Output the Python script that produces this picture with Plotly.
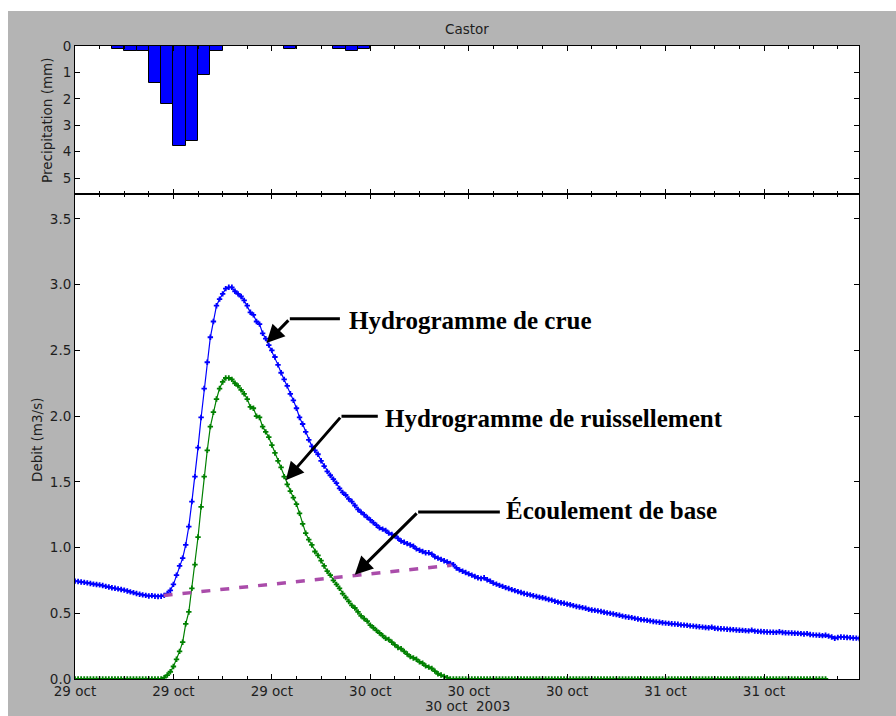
import pandas as pd
import plotly.graph_objects as go

# ---------------- data ----------------
START = pd.Timestamp("2003-10-29 00:00")
STEP_MIN = 15  # sampling step of the discharge series (minutes)

# hourly precipitation (hour offset from 29 oct 00:00, mm)
RAIN_HOURS = [3, 4, 5, 6, 7, 8, 9, 10, 11, 17, 21, 22, 23]
RAIN_MM = [0.1, 0.2, 0.2, 1.4, 2.2, 3.8, 3.6, 1.1, 0.2, 0.1, 0.1, 0.2, 0.1]

# total flow (Hydrogramme de crue), 15-min values from 29 oct 00:00
FLOW_TOTAL = [
    0.745, 0.742, 0.738, 0.735, 0.731, 0.727, 0.722, 0.719,
    0.716, 0.711, 0.705, 0.700, 0.694, 0.690, 0.686, 0.681,
    0.676, 0.670, 0.663, 0.657, 0.650, 0.645, 0.640, 0.636,
    0.632, 0.634, 0.630, 0.628, 0.630, 0.636, 0.650, 0.675,
    0.720, 0.790, 0.860, 0.920, 1.020, 1.160, 1.350, 1.540,
    1.760, 1.990, 2.210, 2.410, 2.600, 2.720, 2.840, 2.890,
    2.930, 2.970, 2.980, 2.980, 2.950, 2.930, 2.910, 2.880,
    2.840, 2.790, 2.770, 2.720, 2.700, 2.630, 2.590, 2.540,
    2.500, 2.450, 2.390, 2.330, 2.280, 2.230, 2.170, 2.120,
    2.060, 1.990, 1.940, 1.880, 1.820, 1.770, 1.740, 1.710,
    1.660, 1.620, 1.580, 1.550, 1.520, 1.490, 1.450, 1.420,
    1.400, 1.370, 1.350, 1.320, 1.290, 1.270, 1.250, 1.230,
    1.210, 1.190, 1.170, 1.150, 1.140, 1.130, 1.110, 1.100,
    1.090, 1.070, 1.050, 1.040, 1.030, 1.020, 1.010, 0.990,
    0.980, 0.970, 0.960, 0.960, 0.950, 0.930, 0.920, 0.910,
    0.900, 0.890, 0.880, 0.870, 0.845, 0.830, 0.820, 0.810,
    0.800, 0.790, 0.780, 0.770, 0.765, 0.770, 0.755, 0.745,
    0.730, 0.722, 0.712, 0.705, 0.695, 0.688, 0.680, 0.672,
    0.665, 0.658, 0.650, 0.645, 0.640, 0.633, 0.628, 0.622,
    0.618, 0.612, 0.605, 0.600, 0.592, 0.585, 0.580, 0.576,
    0.570, 0.565, 0.558, 0.552, 0.548, 0.543, 0.538, 0.530,
    0.525, 0.522, 0.518, 0.514, 0.508, 0.503, 0.499, 0.495,
    0.490, 0.485, 0.478, 0.474, 0.470, 0.467, 0.461, 0.457,
    0.452, 0.450, 0.446, 0.442, 0.438, 0.435, 0.432, 0.428,
    0.425, 0.423, 0.420, 0.418, 0.416, 0.412, 0.410, 0.408,
    0.404, 0.402, 0.400, 0.397, 0.395, 0.392, 0.390, 0.394,
    0.386, 0.384, 0.382, 0.381, 0.379, 0.377, 0.376, 0.373,
    0.371, 0.370, 0.368, 0.366, 0.372, 0.364, 0.362, 0.361,
    0.360, 0.358, 0.357, 0.356, 0.355, 0.360, 0.354, 0.352,
    0.351, 0.350, 0.348, 0.347, 0.345, 0.342, 0.345, 0.338,
    0.336, 0.334, 0.333, 0.330, 0.333, 0.326, 0.320, 0.310,
    0.316, 0.320, 0.318, 0.316, 0.315, 0.312, 0.311, 0.308,
]

# runoff (Hydrogramme de ruissellement), 15-min values from 29 oct 00:00
FLOW_RUNOFF = [
    0.0, 0.0, 0.0, 0.0, 0.0, 0.0, 0.0, 0.0,
    0.0, 0.0, 0.0, 0.0, 0.0, 0.0, 0.0, 0.0,
    0.0, 0.0, 0.0, 0.0, 0.0, 0.0, 0.0, 0.0,
    0.0, 0.0, 0.0, 0.0, 0.000, 0.010, 0.030, 0.055,
    0.095, 0.150, 0.210, 0.280, 0.420, 0.510, 0.690, 0.870,
    1.080, 1.310, 1.540, 1.740, 1.920, 2.030, 2.130, 2.210,
    2.260, 2.290, 2.290, 2.280, 2.250, 2.230, 2.200, 2.170,
    2.130, 2.070, 2.060, 2.000, 1.990, 1.920, 1.880, 1.840,
    1.780, 1.720, 1.660, 1.610, 1.540, 1.480, 1.430, 1.380,
    1.330, 1.260, 1.180, 1.110, 1.060, 1.020, 0.970, 0.940,
    0.900, 0.860, 0.820, 0.790, 0.750, 0.720, 0.690, 0.650,
    0.620, 0.590, 0.560, 0.540, 0.510, 0.480, 0.460, 0.440,
    0.410, 0.390, 0.370, 0.350, 0.330, 0.310, 0.300, 0.280,
    0.260, 0.240, 0.230, 0.210, 0.190, 0.170, 0.160, 0.150,
    0.130, 0.120, 0.100, 0.090, 0.080, 0.060, 0.040, 0.030,
    0.020, 0.010, 0.000, 0.000,
    0.0, 0.0, 0.0, 0.0, 0.0, 0.0, 0.0, 0.0, 0.0, 0.0,
    0.0, 0.0, 0.0, 0.0, 0.0, 0.0, 0.0, 0.0, 0.0, 0.0,
    0.0, 0.0, 0.0, 0.0, 0.0, 0.0, 0.0, 0.0, 0.0, 0.0,
    0.0, 0.0, 0.0, 0.0, 0.0, 0.0, 0.0, 0.0, 0.0, 0.0,
    0.0, 0.0, 0.0, 0.0, 0.0, 0.0, 0.0, 0.0, 0.0, 0.0,
    0.0, 0.0, 0.0, 0.0, 0.0, 0.0, 0.0, 0.0, 0.0, 0.0,
    0.0, 0.0, 0.0, 0.0, 0.0, 0.0, 0.0, 0.0, 0.0, 0.0,
    0.0, 0.0, 0.0, 0.0, 0.0, 0.0, 0.0, 0.0, 0.0, 0.0,
    0.0, 0.0, 0.0, 0.0, 0.0, 0.0, 0.0, 0.0, 0.0, 0.0,
    0.0, 0.0, 0.0, 0.0, 0.0, 0.0, 0.0, 0.0, 0.0, 0.0,
    0.0, 0.0, 0.0, 0.0, 0.0, 0.0, 0.0, 0.0, 0.0, 0.0,
    0.0, 0.0, 0.0, 0.0, 0.0, 0.0, 0.0, 0.0, 0.0, 0.0,
    0.0,
]

# base flow separation line (Écoulement de base)
BASEFLOW_HOURS = [7.2, 30.6]
BASEFLOW = [0.635, 0.865]

XTICK_HOURS = [0, 8, 16, 24, 32, 40, 48, 56]
XTICK_LABELS = ["29 oct", "29 oct", "29 oct", "30 oct", "30 oct", "30 oct", "31 oct", "31 oct"]
X_END_HOURS = 63.72
PRECIP_TICKS = [0, 1, 2, 3, 4, 5]
FLOW_TICKS = [0.0, 0.5, 1.0, 1.5, 2.0, 2.5, 3.0, 3.5]

TITLE = "Castor"
X_TITLE = "30 oct \u00a02003"

# annotation: text, text (hour, value), line end hour, elbow (hour, value), tip (hour, value)
LABELS = [
    ("Hydrogramme de crue", 22.09, 2.73, 21.53, 17.46, 2.74, 15.56, 2.557),
    ("Hydrogramme de ruissellement", 25.02, 1.98, 24.61, 21.66, 2.0, 17.13, 1.513),
    ("Écoulement de base", 34.85, 1.285, 34.53, 27.89, 1.271, 22.74, 0.794),
]


def at(h):
    return START + pd.Timedelta(hours=h)


t_total = [START + pd.Timedelta(minutes=STEP_MIN * i) for i in range(len(FLOW_TOTAL))]
t_runoff = [START + pd.Timedelta(minutes=STEP_MIN * i) for i in range(len(FLOW_RUNOFF))]
t_rain = [at(h) for h in RAIN_HOURS]
t_base = [at(h) for h in BASEFLOW_HOURS]
xtickvals = [at(h) for h in XTICK_HOURS]

GRAY = "#b4b4b4"
TXT = "#1e1e1e"
FONT = "DejaVu Sans"
FS = 13.5

fig = go.Figure()

fig.add_trace(go.Bar(
    x=t_rain, y=RAIN_MM, xaxis="x2", yaxis="y2",
    width=3600 * 1000, offset=0,
    marker=dict(color="#0000ff", line=dict(color="black", width=1)),
    showlegend=False,
))

fig.add_trace(go.Scatter(
    x=t_total, y=FLOW_TOTAL, mode="lines+markers",
    line=dict(color="#0000ff", width=1.2),
    marker=dict(symbol="cross", size=4.5, color="#0000ff"),
    showlegend=False,
))
fig.add_trace(go.Scatter(
    x=t_runoff, y=FLOW_RUNOFF, mode="lines+markers",
    line=dict(color="#008000", width=1.2),
    marker=dict(symbol="cross", size=4.5, color="#008000"),
    showlegend=False,
))
fig.add_trace(go.Scatter(
    x=t_base, y=BASEFLOW, mode="lines",
    line=dict(color="#aa4caa", width=3.5, dash="9px,10px"),
    showlegend=False,
))

axis_common = dict(
    showline=True, linecolor="black", linewidth=1, mirror="allticks",
    ticks="inside", ticklen=5, tickwidth=1, tickcolor="black",
    showgrid=False, zeroline=False,
    tickfont=dict(family=FONT, size=FS, color=TXT),
)

SPLIT = 1 - 148 / 633

fig.update_layout(
    width=896, height=716,
    margin=dict(l=75, r=37, t=46, b=37),
    paper_bgcolor=GRAY, plot_bgcolor="white",
    bargap=0,
    xaxis=dict(
        domain=[0, 1], anchor="y", type="date",
        range=[START, at(X_END_HOURS)],
        tickvals=xtickvals, ticktext=XTICK_LABELS,
        minor=dict(dtick=2 * 3600 * 1000, ticks="inside", ticklen=3, tickcolor="black", showgrid=False),
        **axis_common,
    ),
    yaxis=dict(
        domain=[0, SPLIT], anchor="x",
        range=[0, 3.69],
        tickvals=FLOW_TICKS, ticktext=[f"{v:.1f}" for v in FLOW_TICKS],
        **axis_common,
    ),
    xaxis2=dict(
        domain=[0, 1], anchor="y2", type="date", matches="x",
        range=[START, at(X_END_HOURS)],
        tickvals=xtickvals, showticklabels=False,
        minor=dict(dtick=2 * 3600 * 1000, ticks="inside", ticklen=3, tickcolor="black", showgrid=False),
        **axis_common,
    ),
    yaxis2=dict(
        domain=[SPLIT, 1], anchor="x2",
        range=[5.6, 0],
        tickvals=PRECIP_TICKS, ticktext=[str(v) for v in PRECIP_TICKS],
        **axis_common,
    ),
)

PW, PH = 784, 633


def px_x(px):
    return (px - 75) / PW


def px_y(py):
    return (679 - py) / PH


shapes = [
    # white margins of the original image
    dict(type="rect", xref="paper", yref="paper", x0=px_x(0), x1=px_x(896), y0=px_y(11), y1=px_y(0),
         fillcolor="white", line=dict(width=0), layer="above"),
    dict(type="rect", xref="paper", yref="paper", x0=px_x(0), x1=px_x(8), y0=px_y(716), y1=px_y(0),
         fillcolor="white", line=dict(width=0), layer="above"),
]

annotations = [
    dict(text=TITLE, xref="paper", yref="paper", x=0.5, y=px_y(29), showarrow=False,
         font=dict(family=FONT, size=FS, color=TXT), xanchor="center", yanchor="middle"),
    dict(text="Precipitation (mm)", xref="paper", yref="paper", x=px_x(47), y=px_y(120),
         textangle=-90, showarrow=False, font=dict(family=FONT, size=FS, color=TXT),
         xanchor="center", yanchor="middle"),
    dict(text="Debit (m3/s)", xref="paper", yref="paper", x=px_x(37), y=px_y(440),
         textangle=-90, showarrow=False, font=dict(family=FONT, size=FS, color=TXT),
         xanchor="center", yanchor="middle"),
    dict(text=X_TITLE, xref="paper", yref="paper", x=0.5, y=px_y(706), showarrow=False,
         font=dict(family=FONT, size=FS, color=TXT), xanchor="center", yanchor="middle"),
]

for text, th, tv, lend, eh, ev, tiph, tipv in LABELS:
    annotations.append(dict(
        text="<b>" + text + "</b>", x=at(th), y=tv, xref="x", yref="y",
        showarrow=False, xanchor="left", yanchor="middle",
        font=dict(family="Liberation Serif", size=25, color="black"),
    ))
    shapes.append(dict(type="line", xref="x", yref="y", x0=at(eh), y0=ev, x1=at(lend), y1=ev,
                       line=dict(color="black", width=3)))
    annotations.append(dict(
        text="", x=at(tiph), y=tipv, xref="x", yref="y",
        ax=at(eh), ay=ev, axref="x", ayref="y",
        showarrow=True, arrowhead=2, arrowsize=1.2, arrowwidth=3, arrowcolor="black",
        standoff=0, startstandoff=0,
    ))

fig.update_layout(shapes=shapes, annotations=annotations)

fig.write_html("out.html")
